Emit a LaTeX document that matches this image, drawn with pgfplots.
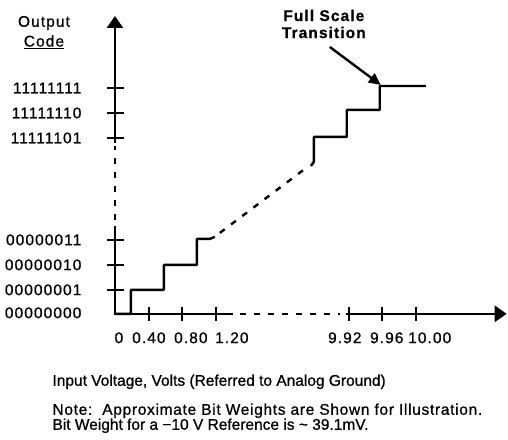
\documentclass[border=0pt]{standalone}
\usepackage{pgfplots}
\pgfplotsset{compat=1.18}
\usepackage{fontspec}
\setmainfont{Liberation Sans}
\newfontfamily\lsfont[LetterSpace=7,FakeBold=0.8]{Liberation Sans}
\newfontfamily\lsnfont[LetterSpace=4.5,FakeBold=0.8]{Liberation Sans}
\newfontfamily\plfont[FakeBold=0.8]{Liberation Sans}
\usetikzlibrary{arrows.meta}
\newcommand{\lbl}{\lsfont\fontsize{15.5}{18}\selectfont}
\newcommand{\nlbl}{\lsnfont\fontsize{15.5}{18}\selectfont}
\newcommand{\plbl}{\plfont\fontsize{15.5}{18}\selectfont}
\begin{document}
\begin{tikzpicture}
\begin{axis}[
  width=508pt, height=440pt, scale only axis,
  xmin=0, xmax=508, ymin=0, ymax=440, y dir=reverse,
  hide axis, clip=false,
]
\path (axis cs:0,0) rectangle (axis cs:508,440);
% ---- y axis (solid / dashed / solid with arrow)
\addplot[black, line width=2.6pt, forget plot] coordinates {(115,315) (115,226)};
\addplot[black, line width=2.6pt, dash pattern=on 6pt off 8pt, forget plot] coordinates {(115,220) (115,146)};
\addplot[black, line width=2.6pt, -{Triangle[length=12pt,width=16pt]}, forget plot] coordinates {(115,143) (115,16)};
% ---- x axis
\addplot[black, line width=2.6pt, forget plot] coordinates {(115,314) (233,314)};
\addplot[black, line width=2.6pt, dash pattern=on 6pt off 8pt, forget plot] coordinates {(240,314) (340,314)};
\addplot[black, line width=2.6pt, -{Triangle[length=12pt,width=16pt]}, forget plot] coordinates {(346,314) (507,314)};
% ---- y ticks
\addplot[black, line width=2pt, forget plot] coordinates {(107,88) (124,88)};
\addplot[black, line width=2pt, forget plot] coordinates {(107,113) (124,113)};
\addplot[black, line width=2pt, forget plot] coordinates {(107,138) (124,138)};
\addplot[black, line width=2pt, forget plot] coordinates {(107,240) (124,240)};
\addplot[black, line width=2pt, forget plot] coordinates {(107,265) (124,265)};
\addplot[black, line width=2pt, forget plot] coordinates {(107,290) (124,290)};
% ---- x ticks
\addplot[black, line width=2pt, forget plot] coordinates {(149,307) (149,321)};
\addplot[black, line width=2pt, forget plot] coordinates {(182,307) (182,321)};
\addplot[black, line width=2pt, forget plot] coordinates {(216,307) (216,321)};
\addplot[black, line width=2pt, forget plot] coordinates {(349,307) (349,321)};
\addplot[black, line width=2pt, forget plot] coordinates {(382,307) (382,321)};
\addplot[black, line width=2pt, forget plot] coordinates {(416,307) (416,321)};
% ---- staircase transfer function
\addplot[black, line width=2.4pt, line join=round, forget plot] coordinates {
  (115,314) (131,314) (131,290) (164,290) (164,265) (197,265) (197,239) (210,239) (215,237)};
\addplot[black, line width=2.4pt, dash pattern=on 6pt off 8pt, forget plot] coordinates {
  (220,233) (309,166)};
\addplot[black, line width=2.4pt, line join=round, forget plot] coordinates {
  (311,166) (314,162) (314,137) (347,137) (347,110) (380,110) (380,86) (426,86)};
% ---- full scale arrow
\addplot[black, line width=2.4pt, -{Triangle[length=12pt,width=11pt]}, forget plot] coordinates {(330,47) (381,85)};
% ---- texts
\node[font=\lbl\bfseries, align=center] at (axis cs:324,24) {Full Scale\\[-1pt]Transition};
\node[font=\lbl] at (axis cs:44,23) {Output};
\node[font=\lbl] at (axis cs:44,42) {\underline{Code}};
\foreach \yy/\tt in {88/11111111,113/11111110,138/11111101,240/00000011,265/00000010,290/00000001,313/00000000}{
  \edef\tmp{\noexpand\node[font=\noexpand\lbl, anchor=east] at (axis cs:85,\yy) {\tt};}\tmp
}
\node[font=\lbl] at (axis cs:119,338) {0};
\node[font=\lbl] at (axis cs:149,338) {0.40};
\node[font=\lbl] at (axis cs:191,338) {0.80};
\node[font=\lbl] at (axis cs:232,338) {1.20};
\node[font=\lbl] at (axis cs:345,338) {9.92};
\node[font=\lbl] at (axis cs:387,338) {9.96};
\node[font=\lbl] at (axis cs:430,338) {10.00};
\node[font=\plbl, anchor=west] at (axis cs:49,382) {Input Voltage, Volts (Referred to Analog Ground)};
\node[font=\nlbl, anchor=west] at (axis cs:49,411) {Note:\ \ Approximate Bit Weights are Shown for Illustration.};
\node[font=\plbl, anchor=west] at (axis cs:49,426) {Bit Weight for a \textminus10 V Reference is \textasciitilde{} 39.1mV.};
\end{axis}
\end{tikzpicture}
\end{document}
